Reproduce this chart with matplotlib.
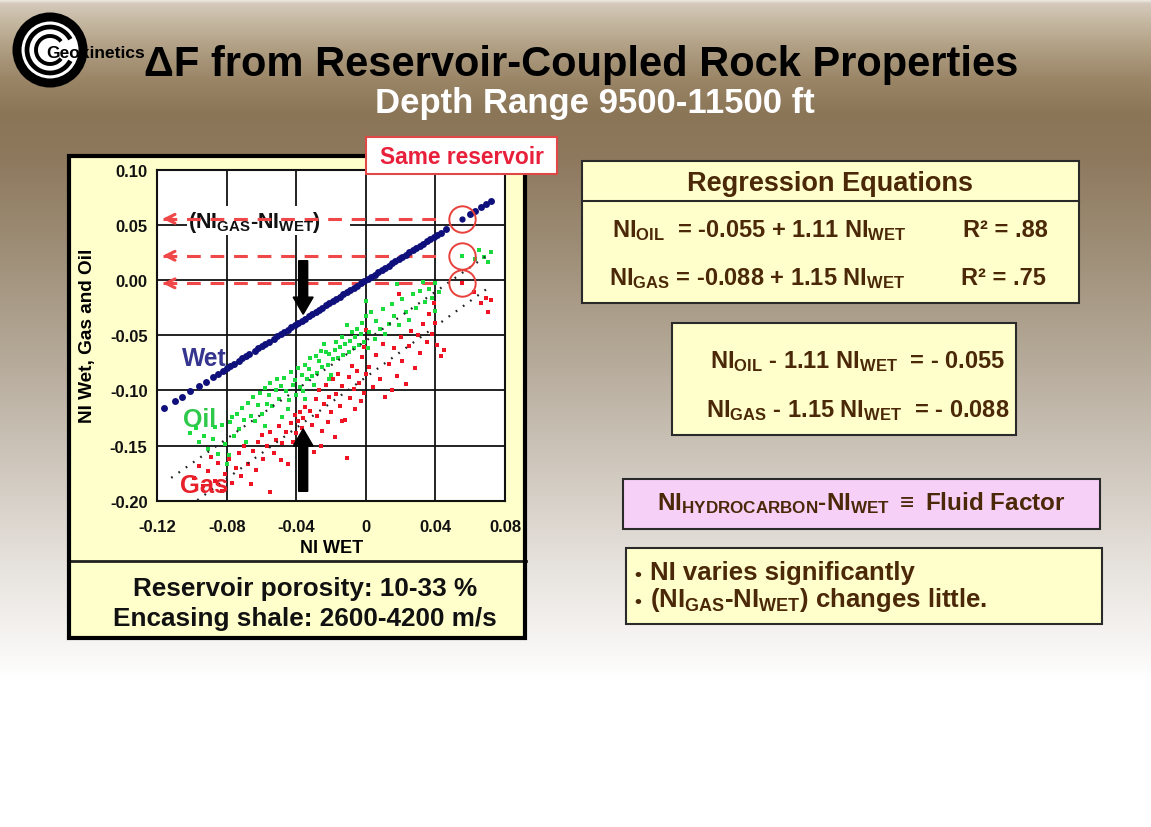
import matplotlib
matplotlib.use("Agg")
import matplotlib.pyplot as plt
import numpy as np
from matplotlib.colors import to_rgb
from matplotlib.patches import Rectangle, Circle, Arc

plt.rcParams["font.family"] = ["Liberation Sans", "DejaVu Sans"]
plt.rcParams["font.weight"] = "bold"
plt.rcParams["axes.labelweight"] = "bold"
plt.rcParams["mathtext.fontset"] = "custom"
plt.rcParams["mathtext.rm"] = "Liberation Sans:bold"
plt.rcParams["mathtext.it"] = "Liberation Sans:bold"
plt.rcParams["mathtext.bf"] = "Liberation Sans:bold"
plt.rcParams["mathtext.default"] = "rm"

# NI of the wet case (plotted against itself)
wet_ni = [-0.116, -0.110, -0.106, -0.101, -0.096, -0.092, -0.088, -0.085, -0.082,
          -0.080, -0.078, -0.076, -0.073, -0.071, -0.069, -0.067, -0.064, -0.062,
          -0.060, -0.058, -0.056, -0.053, -0.051, -0.049, -0.047, -0.045, -0.043,
          -0.041, -0.039, -0.037, -0.035, -0.033, -0.031, -0.029, -0.027, -0.025,
          -0.023, -0.021, -0.019, -0.017, -0.015, -0.013, -0.011, -0.009, -0.007,
          -0.005, -0.003, -0.001, 0.001, 0.003, 0.005, 0.007, 0.009, 0.011, 0.013,
          0.015, 0.017, 0.019, 0.021, 0.023, 0.025, 0.027, 0.029, 0.031, 0.033,
          0.035, 0.037, 0.039, 0.041, 0.043, 0.046, 0.060, 0.063, 0.066, 0.069, 0.072]

# (NI wet, NI oil)
oil_pts = [
    (-0.101, -0.139), (-0.098, -0.134), (-0.096, -0.147), (-0.093, -0.141), (-0.091, -0.153),
    (-0.088, -0.144), (-0.087, -0.133), (-0.085, -0.158), (-0.083, -0.131), (-0.081, -0.149),
    (-0.080, -0.167), (-0.079, -0.159), (-0.078, -0.129), (-0.077, -0.124), (-0.076, -0.141),
    (-0.074, -0.121), (-0.073, -0.135), (-0.071, -0.116), (-0.070, -0.127), (-0.069, -0.147),
    (-0.068, -0.111), (-0.066, -0.123), (-0.065, -0.106), (-0.064, -0.128), (-0.062, -0.113),
    (-0.061, -0.102), (-0.060, -0.121), (-0.058, -0.098), (-0.057, -0.112), (-0.056, -0.104),
    (-0.055, -0.093), (-0.054, -0.114), (-0.052, -0.100), (-0.051, -0.090), (-0.050, -0.108),
    (-0.049, -0.096), (-0.047, -0.089), (-0.046, -0.101), (-0.045, -0.117), (-0.044, -0.109),
    (-0.043, -0.083), (-0.042, -0.095), (-0.041, -0.091), (-0.040, -0.104), (-0.039, -0.080),
    (-0.038, -0.097), (-0.037, -0.086), (-0.036, -0.101), (-0.035, -0.077), (-0.034, -0.090),
    (-0.033, -0.081), (-0.032, -0.071), (-0.031, -0.087), (-0.030, -0.095), (-0.029, -0.069),
    (-0.028, -0.084), (-0.027, -0.073), (-0.026, -0.064), (-0.025, -0.079), (-0.024, -0.058),
    (-0.023, -0.065), (-0.022, -0.077), (-0.021, -0.067), (-0.020, -0.086), (-0.019, -0.072),
    (-0.018, -0.063), (-0.017, -0.056), (-0.016, -0.071), (-0.015, -0.061), (-0.014, -0.052),
    (-0.013, -0.068), (-0.012, -0.058), (-0.011, -0.041), (-0.010, -0.065), (-0.009, -0.055),
    (-0.008, -0.047), (-0.007, -0.062), (-0.006, -0.052), (-0.005, -0.044), (-0.004, -0.059),
    (-0.003, -0.049), (-0.002, -0.039), (-0.001, -0.056), (0.000, -0.033), (0.000, -0.019),
    (0.001, -0.062), (0.002, -0.047), (0.003, -0.029), (0.005, -0.053), (0.006, -0.037),
    (0.008, -0.044), (0.010, -0.026), (0.011, -0.049), (0.013, -0.040), (0.015, -0.022),
    (0.016, -0.033), (0.018, -0.004), (0.019, -0.041), (0.021, -0.017), (0.023, -0.029),
    (0.025, -0.036), (0.027, -0.013), (0.029, -0.025), (0.031, -0.010), (0.033, -0.002),
    (0.034, -0.020), (0.036, -0.008), (0.038, -0.016), (0.040, -0.003), (0.040, -0.028),
    (0.042, -0.011), (-0.058, -0.132), (-0.048, -0.124), (-0.035, -0.108), (-0.021, -0.090),
    (0.063, 0.019), (0.065, 0.027), (0.068, 0.021), (0.070, 0.016), (0.072, 0.025),
]

# (NI wet, NI gas)
gas_pts = [
    (-0.099, -0.179), (-0.096, -0.169), (-0.094, -0.187), (-0.091, -0.173), (-0.089, -0.160),
    (-0.087, -0.182), (-0.085, -0.166), (-0.083, -0.191), (-0.081, -0.176), (-0.079, -0.162),
    (-0.077, -0.184), (-0.075, -0.170), (-0.073, -0.157), (-0.072, -0.178), (-0.070, -0.150),
    (-0.068, -0.167), (-0.066, -0.185), (-0.065, -0.155), (-0.063, -0.172), (-0.062, -0.147),
    (-0.060, -0.140), (-0.059, -0.162), (-0.057, -0.150), (-0.055, -0.192), (-0.055, -0.138),
    (-0.053, -0.157), (-0.052, -0.145), (-0.050, -0.132), (-0.049, -0.163), (-0.048, -0.148),
    (-0.046, -0.138), (-0.045, -0.167), (-0.043, -0.130), (-0.042, -0.147), (-0.041, -0.122),
    (-0.040, -0.139), (-0.039, -0.128), (-0.038, -0.120), (-0.037, -0.134), (-0.036, -0.125),
    (-0.035, -0.115), (-0.034, -0.144), (-0.032, -0.119), (-0.031, -0.131), (-0.030, -0.156),
    (-0.029, -0.108), (-0.028, -0.123), (-0.027, -0.100), (-0.025, -0.137), (-0.024, -0.112),
    (-0.023, -0.095), (-0.022, -0.129), (-0.021, -0.106), (-0.020, -0.120), (-0.019, -0.090),
    (-0.018, -0.142), (-0.017, -0.103), (-0.016, -0.085), (-0.015, -0.114), (-0.014, -0.096),
    (-0.012, -0.127), (-0.011, -0.161), (-0.010, -0.088), (-0.009, -0.107), (-0.008, -0.078),
    (-0.007, -0.099), (-0.006, -0.117), (-0.005, -0.082), (-0.004, -0.093), (-0.003, -0.110),
    (-0.002, -0.070), (-0.001, -0.102), (0.000, -0.085), (0.000, -0.045), (-0.001, -0.061),
    (0.002, -0.079), (0.004, -0.097), (0.006, -0.068), (0.008, -0.090), (0.010, -0.058),
    (0.011, -0.106), (0.013, -0.076), (0.015, -0.100), (0.016, -0.062), (0.018, -0.087),
    (0.019, -0.013), (0.020, -0.052), (0.021, -0.073), (0.023, -0.094), (0.025, -0.060),
    (0.026, -0.046), (0.028, -0.080), (0.030, -0.050), (0.031, -0.066), (0.033, -0.040),
    (0.035, -0.056), (0.036, -0.031), (0.038, -0.049), (0.039, -0.021), (0.040, -0.039),
    (0.041, -0.059), (0.043, -0.069), (0.045, -0.063), (-0.026, -0.150), (-0.014, -0.128),
    (0.062, -0.011), (0.066, -0.021), (0.069, -0.016), (0.070, -0.029), (0.072, -0.018),
]

# one reservoir seen as wet, oil and gas
same_wet = 0.0555
same_values = {"wet": 0.0555, "oil": 0.022, "gas": -0.003}

# regression fits: NI = a + b * NI_wet
oil_fit = (-0.055, 1.11)
gas_fit = (-0.088, 1.15)
oil_fit_range = (-0.112, 0.072)
gas_fit_range = (-0.097, 0.070)

xticks = [-0.12, -0.08, -0.04, 0.0, 0.04, 0.08]
xtick_labels = ["-0.12", "-0.08", "-0.04", "0", "0.04", "0.08"]
yticks = [0.10, 0.05, 0.0, -0.05, -0.10, -0.15, -0.20]
ytick_labels = ["0.10", "0.05", "0.00", "-0.05", "-0.10", "-0.15", "-0.20"]

W, H = 1151, 828
NAVY = "#10107c"
GREEN = "#1bdc3e"
RED = "#ee1424"
BROWN = "#4a2808"
CREAM = "#ffffcc"
DASH_RED = "#f04848"

fig = plt.figure(figsize=(W / 100, H / 100), dpi=100)

# slide background
bg = fig.add_axes([0, 0, 1, 1])
bg.set_xlim(0, W)
bg.set_ylim(H, 0)
bg.axis("off")
stops = [(0, "#f4f1ec"), (4, "#d4cabb"), (20, "#c7baa4"), (45, "#b3a287"),
         (80, "#9a8567"), (115, "#8b7557"), (160, "#8e795e"), (250, "#9e8e77"),
         (350, "#b3a796"), (450, "#cbc3b8"), (550, "#e3ded8"), (640, "#f6f4f2"),
         (680, "#ffffff"), (828, "#ffffff")]
rows = np.arange(H)
sy = [s[0] for s in stops]
cols = np.array([to_rgb(s[1]) for s in stops])
grad = np.stack([np.interp(rows, sy, cols[:, k]) for k in range(3)], axis=1)
grad = np.repeat(grad[:, None, :], 2, axis=1)
bg.imshow(grad, extent=[0, W, H, 0], aspect="auto", interpolation="bilinear", zorder=0)

# left panel
bg.add_patch(Rectangle((68, 155), 459, 485, fc=CREAM, ec="none", zorder=1))
bg.plot([68, 526], [562, 562], color="#222222", lw=2, zorder=2)
bg.text(305, 596, "Reservoir porosity: 10-33 %", fontsize=18.8, ha="center", va="baseline", color="#111111")
bg.text(305, 626, "Encasing shale: 2600-4200 m/s", fontsize=18.8, ha="center", va="baseline", color="#111111")

# scatter plot
ax = fig.add_axes([157.3 / W, (H - 501.7) / H, 347.7 / W, 331 / H])
ax.set_facecolor("white")
ax.set_xlim(-0.12, 0.08)
ax.set_ylim(-0.20, 0.10)
ax.set_xticks(xticks)
ax.set_xticklabels(xtick_labels)
ax.set_yticks(yticks)
ax.set_yticklabels(ytick_labels)
ax.tick_params(length=0, labelsize=12, colors="#111111")
ax.tick_params(axis="x", pad=13)
ax.tick_params(axis="y", pad=7)
ax.grid(True, color="#111111", lw=1.3)
ax.set_axisbelow(True)
for sp in ax.spines.values():
    sp.set_linewidth(1.5)
    sp.set_color("#111111")
ax.set_xlabel("NI WET", fontsize=13, labelpad=4)
ax.set_ylabel("NI Wet, Gas and Oil", fontsize=13.7, labelpad=10)

# regression lines
for (a, b), (x0, x1) in [(oil_fit, oil_fit_range), (gas_fit, gas_fit_range)]:
    xs = np.array([x0, x1])
    ax.plot(xs, a + b * xs, color="#222222", lw=1.6, ls=(0, (0.8, 3.2)), zorder=3.5)

ox, oy = zip(*oil_pts)
gx, gy = zip(*gas_pts)
ax.plot(gx, gy, "s", color=RED, ms=3.1, mew=0, zorder=3)
ax.plot(ox, oy, "s", color=GREEN, ms=3.1, mew=0, zorder=3.2)
ax.plot(wet_ni, wet_ni, "o", color=NAVY, ms=5, mew=0, zorder=4)
ax.plot([same_wet], [same_values["wet"]], "o", color=NAVY, ms=4.5, mew=0, zorder=4)
ax.plot([same_wet], [same_values["oil"]], "s", color=GREEN, ms=3.1, mew=0, zorder=4)
ax.plot([same_wet], [same_values["gas"]], "s", color=RED, ms=3.1, mew=0, zorder=4)

# white patch behind the difference label
ax.add_patch(Rectangle((-0.103, 0.0405), 0.0937, 0.0269, fc="white", ec="none", zorder=1.5))
ax.text(-0.1025, 0.0478, r"(NI$_{GAS}$-NI$_{WET}$)", fontsize=15.5, color="#111111",
        va="baseline", ha="left", zorder=1.6)

# dashed arrows from the circled reservoir back to the NI axis
for key in ["wet", "oil", "gas"]:
    yv = same_values[key]
    ax.plot([-0.117, 0.0425], [yv, yv], color=DASH_RED, lw=2.2, ls=(0, (4.5, 3.2)), zorder=2)
    ax.annotate("", xy=(-0.1185, yv), xytext=(-0.110, yv),
                arrowprops=dict(arrowstyle="->", color=DASH_RED, lw=2.2, mutation_scale=16),
                zorder=2)
    ax.plot([same_wet], [yv], "o", ms=19, mfc="none", mec="#e8403a", mew=1.4, zorder=5)

# black arrows towards the wet line and from the gas cloud
ax.arrow(-0.0361, 0.0175, 0, -0.033, width=0.0052, head_width=0.0115,
         head_length=0.0155, length_includes_head=False, color="black", zorder=5)
ax.arrow(-0.0361, -0.1915, 0, 0.041, width=0.0052, head_width=0.0115,
         head_length=0.0155, length_includes_head=False, color="black", zorder=5)

ax.text(-0.106, -0.077, "Wet", color="#35358f", fontsize=17.7, va="baseline", zorder=6)
ax.text(-0.105, -0.1324, "Oil", color="#2ec84a", fontsize=18, va="baseline", zorder=6)
ax.text(-0.107, -0.192, "Gas", color="#e8202a", fontsize=18.4, va="baseline", zorder=6)

# overlay for frames, title and text boxes
fg = fig.add_axes([0, 0, 1, 1], label="overlay")
fg.set_xlim(0, W)
fg.set_ylim(H, 0)
fg.axis("off")
fg.patch.set_alpha(0)
fg.add_patch(Rectangle((69.5, 156.5), 456, 482, fc="none", ec="black", lw=3, zorder=2))

# "Same reservoir" tag
fg.add_patch(Rectangle((366, 138), 191, 37, fc="white", ec="#e04848", lw=1.5, zorder=3))
fg.text(461.5, 164, "Same reservoir", color="#e8203a", fontsize=16.4, ha="center",
        va="baseline", zorder=4)

# logo
lc = (50, 51)
fg.add_patch(Circle(lc, 37, fc="white", ec="none", zorder=2))
fg.add_patch(Circle(lc, 33, fc="none", ec="black", lw=6.5, zorder=3))
fg.add_patch(Arc(lc, 46, 46, theta1=28, theta2=332, ec="black", lw=3.4, zorder=3))
fg.add_patch(Arc(lc, 28, 28, theta1=38, theta2=322, ec="black", lw=2.8, zorder=3))
fg.text(46, 58, "Geokinetics", fontsize=12.5, color="black", ha="left", va="baseline", zorder=4)

# title
fg.text(581, 76, "\u0394F from Reservoir-Coupled Rock Properties", fontsize=30,
        ha="center", va="baseline", color="black")
fg.text(595, 113, "Depth Range 9500-11500 ft", fontsize=25, ha="center",
        va="baseline", color="white")

# regression equations box
fg.add_patch(Rectangle((582, 162), 497, 142, fc=CREAM, ec="#2a2a2a", lw=1.5, zorder=2))
fg.plot([582, 1079], [202, 202], color="#2a2a2a", lw=1.5, zorder=3)
fg.text(830, 191, "Regression Equations", fontsize=19.5, ha="center", va="baseline", color=BROWN)
fg.text(612, 237, r"NI$_{OIL}$  = -0.055 + 1.11 NI$_{WET}$", fontsize=17, va="baseline", color=BROWN)
fg.text(609, 285, r"NI$_{GAS}$ = -0.088 + 1.15 NI$_{WET}$", fontsize=17, va="baseline", color=BROWN)
fg.text(963, 237, "R\u00b2 = .88", fontsize=17, va="baseline", color=BROWN)
fg.text(961, 285, "R\u00b2 = .75", fontsize=17, va="baseline", color=BROWN)

# rearranged equations
fg.add_patch(Rectangle((672, 324), 344, 112, fc=CREAM, ec="#2a2a2a", lw=1.5, zorder=2))
fg.text(1005, 368, r"NI$_{OIL}$ - 1.11 NI$_{WET}$  = - 0.055", fontsize=17, ha="right",
        va="baseline", color=BROWN)
fg.text(1009, 417, r"NI$_{GAS}$ - 1.15 NI$_{WET}$  = - 0.088", fontsize=17, ha="right",
        va="baseline", color=BROWN)

# fluid factor definition
fg.add_patch(Rectangle((623, 480), 477, 50, fc="#f7d0f7", ec="#2a2a2a", lw=1.5, zorder=2))
fg.text(861, 510, r"NI$_{HYDROCARBON}$-NI$_{WET}$ $\equiv$ Fluid Factor", fontsize=17.5,
        ha="center", va="baseline", color=BROWN)

# notes
fg.add_patch(Rectangle((626, 549), 476, 76, fc=CREAM, ec="#2a2a2a", lw=1.5, zorder=2))
fg.text(634, 580, "\u2022", fontsize=14, va="baseline", color=BROWN)
fg.text(650, 580, "NI varies significantly", fontsize=18.5, va="baseline", color=BROWN)
fg.text(634, 607, "\u2022", fontsize=14, va="baseline", color=BROWN)
fg.text(650, 607, r"(NI$_{GAS}$-NI$_{WET}$) changes little.", fontsize=18.5, va="baseline", color=BROWN)

fig.savefig("out.png", dpi=100)
